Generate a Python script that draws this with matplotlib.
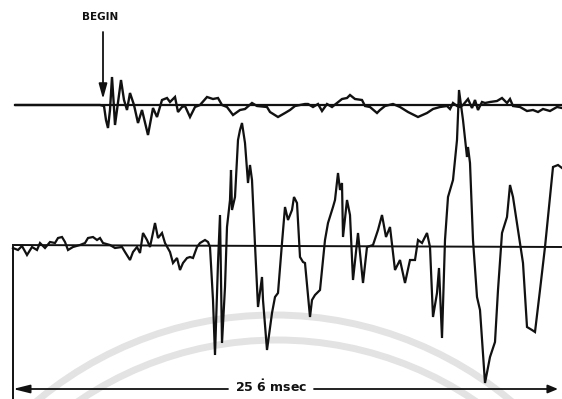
import matplotlib
matplotlib.use("Agg")
import matplotlib.pyplot as plt
import numpy as np
from matplotlib.patches import Arc

# ---- data (time in record units, amplitude positive up, relative to each trace's baseline) ----
t_top = [3, 87, 91, 93, 95, 97, 99, 101, 102, 104, 108, 111, 114, 117, 121, 125, 129, 135,
         140, 144, 149, 154, 157, 162, 165, 169, 172, 177, 182, 187, 194, 200, 205, 209, 214,
         220, 227, 232, 239, 244, 254, 257, 265, 272, 277, 282, 292, 295, 300, 305, 309, 314,
         319, 324, 329, 334, 337, 342, 349, 352, 357, 364, 367, 372, 380, 387, 395, 405, 414,
         420, 427, 434, 437, 440, 444, 447, 450, 455, 459, 462, 465, 469, 472, 477, 484, 489,
         494, 497, 500, 507, 514, 520, 525, 530, 537, 544, 549]
v_top = [0, 0, -1, -15, -23, -5, 28, -3, -20, -5, 25, 5, -5, 12, 0, -18, -5, -30,
         -3, -12, 5, 7, 3, 8, -7, -2, -1, -12, -2, 0, 8, 6, 7, 0, -2,
         -10, -5, -4, 2, -1, -2, -7, -12, -8, -5, -1, 1, 1, -2, 1, -6, 1,
         -2, 2, 6, 7, 10, 6, 5, -1, -2, -8, -5, -1, 1, -2, -7, -12, -8,
         -4, -2, -1, -4, 2, -1, -2, 0, 6, -3, 5, -5, 3, 2, 3, 4, 7,
         2, 6, -1, -2, -6, -5, -7, -4, -6, -2, -3]

t_bot = [0, 5, 9, 14, 19, 24, 27, 32, 37, 42, 45, 49, 52, 55, 60, 67, 72, 75, 80, 84, 87, 90,
         97, 102, 109, 112, 117, 120, 124, 127, 130, 134, 137, 142, 145, 149, 152, 157, 160, 164,
         167, 170, 174, 177, 180, 184, 187, 192, 195, 197, 200, 202, 205, 207, 209, 212, 214,
         217, 218, 219, 222, 225, 227, 229, 232, 235, 237, 239, 242, 245, 249, 250, 254, 259,
         262, 265, 269, 272, 275, 279, 281, 284, 287, 290, 292, 297, 299, 302, 305, 307, 309,
         312, 315, 320, 322, 325, 327, 329, 330, 334, 337, 340, 345, 350, 354, 360, 365, 369,
         373, 377, 382, 387, 392, 397, 402, 405, 409, 414, 417, 420, 424, 426, 429, 432, 435,
         440, 444, 446, 450, 454, 455, 457, 460, 464, 467, 472, 477, 482, 485, 489, 494, 497,
         500, 505, 510, 514, 519, 522, 527, 532, 535, 540, 545, 549]
v_bot = [-2, -4, 0, -9, -1, -4, 3, -2, 4, 3, 8, 9, 4, -4, -1, 1, 3, 8, 9, 6, 8, 3,
         1, -2, -1, -6, -14, -6, -1, -7, 13, 6, -1, 23, 8, 13, 3, -6, -17, -12,
         -24, -17, -12, -11, -12, -1, 3, 6, 4, -1, -54, -109, -17, 31, -97, -41, 19,
         46, 76, 36, 49, 106, 116, 123, 103, 63, 81, 66, 1, -61, -31, -54, -104, -67,
         -51, -47, 3, 39, 26, 36, 49, 43, -11, -16, -17, -71, -54, -49, -46, -44, -24,
         6, 23, 39, 46, 73, 56, 63, 9, 46, 31, -34, 13, -37, -1, 1, 16, 31,
         9, 19, -24, -14, -37, -14, -14, 6, 3, 13, -1, -71, -47, -22, -92, 6, 49,
         66, 106, 156, 126, 89, 99, 83, 6, -51, -64, -137, -111, -96, -44, 13, 29, 61,
         49, 16, -17, -81, -84, -86, -44, -1, 29, 79, 81, 78]

begin_label = "BEGIN"
scale_label = r"25 $\mathbf{\dot{6}}$ msec"

# ---- layout ----
plt.rcParams["mathtext.fontset"] = "dejavusans"
TOP_BASE = 141
fig = plt.figure(figsize=(5.62, 3.99), dpi=100)
ax = fig.add_axes([0, 0, 1, 1])
ax.set_xlim(-13, 549)
ax.set_ylim(-153, 246)
ax.axis("off")

# faint watermark arcs
for (cx, cy, r) in [(261, -439, 370), (264, -447, 353)]:
    ax.add_patch(Arc((cx, cy), 2 * r, 2 * r, theta1=0, theta2=180,
                     color="#e3e3e3", lw=5.0, zorder=0))

ink = "#111111"
# baselines
ax.plot([2, 549], [TOP_BASE, TOP_BASE], color=ink, lw=1.6, zorder=2)
ax.plot([0, 549], [1, -1], color=ink, lw=1.4, zorder=2)

# traces
ax.plot(np.array(t_top), TOP_BASE + np.array(v_top), color=ink, lw=1.7,
        solid_joinstyle="miter", zorder=3)
ax.plot(np.array(t_bot), np.array(v_bot), color=ink, lw=1.6,
        solid_joinstyle="miter", zorder=3)

# BEGIN marker
ax.text(87, 229, begin_label, ha="center", va="center", fontsize=7.5,
        fontweight="bold", color=ink)
ax.annotate("", xy=(90, 147), xytext=(90, 214),
            arrowprops=dict(arrowstyle="-|>,head_length=0.9,head_width=0.25",
                            color=ink, lw=1.3, shrinkA=0, shrinkB=0))

# time bracket
ax.plot([0, 0], [-1, -153], color=ink, lw=1.4)
ax.annotate("", xy=(0, -143), xytext=(215, -143),
            arrowprops=dict(arrowstyle="-|>,head_length=1.0,head_width=0.25",
                            color=ink, lw=1.3, shrinkA=0, shrinkB=0))
ax.annotate("", xy=(545, -143), xytext=(301, -143),
            arrowprops=dict(arrowstyle="-|>,head_length=0.6,head_width=0.25",
                            color=ink, lw=1.3, shrinkA=0, shrinkB=0))
ax.text(258, -141, scale_label, ha="center", va="center", fontsize=9,
        fontweight="bold", color=ink)

fig.savefig("out.png", dpi=100)
